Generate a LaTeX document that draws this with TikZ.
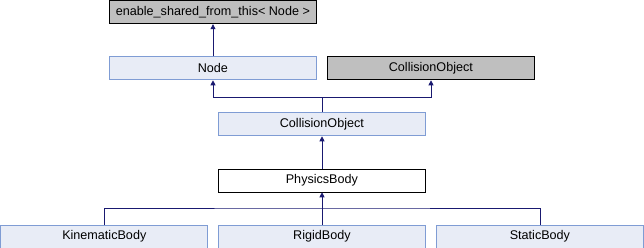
\documentclass[tikz,border=0pt]{standalone}
\usepackage{fontspec}
\setmainfont{Liberation Sans}
\usetikzlibrary{arrows.meta}
\definecolor{edgec}{HTML}{191970}
\definecolor{bluefill}{HTML}{E8ECF6}
\definecolor{blueborder}{HTML}{7F9CD4}
\definecolor{grayfill}{HTML}{BFBFBF}
\tikzset{
  cls/.style={draw=blueborder, fill=bluefill, line width=0.8pt, minimum width=207pt, minimum height=23pt, inner sep=0pt, font=\fontsize{12.6}{14}\selectfont, anchor=north west},
  ext/.style={cls, draw=black, fill=grayfill},
  cur/.style={cls, draw=black, fill=white},
  inh/.style={draw=edgec, line width=0.8pt, -{Triangle[length=5pt,width=5pt]}},
  ln/.style={draw=edgec, line width=0.8pt},
}
\begin{document}
\begin{tikzpicture}[x=1pt,y=-1pt]
\useasboundingbox (0,0) rectangle (644,248);
\node[ext] (esft) at (109,0.4) {enable\_shared\_from\_this< Node >};
\node[cls] (node) at (109,56.5) {Node};
\node[ext] (cog) at (327,56.5) {CollisionObject};
\node[cls] (co) at (218,112.5) {CollisionObject};
\node[cur] (pb) at (218,168.5) {PhysicsBody};
\node[cls] (kb) at (0.4,224.5) {KinematicBody};
\node[cls] (rb) at (218,224.5) {RigidBody};
\node[cls] (sb) at (436,224.5) {StaticBody};
\coordinate (m1) at (322,97);
\coordinate (m2) at (322,208);
\draw[inh] (node.north -| 213,0) -- (esft.south -| 213,0);
\draw[ln] (co.north -| m1) -- (m1);
\draw[inh] (m1) -| (node.south -| 213,0);
\draw[inh] (m1) -| (cog.south -| 431,0);
\draw[inh] (pb.north -| m1) -- (co.south -| m1);
\draw[ln] (kb.north) |- (m2) -| (sb.north);
\draw[inh] (rb.north -| m2) -- (pb.south -| m2);
\end{tikzpicture}
\end{document}
